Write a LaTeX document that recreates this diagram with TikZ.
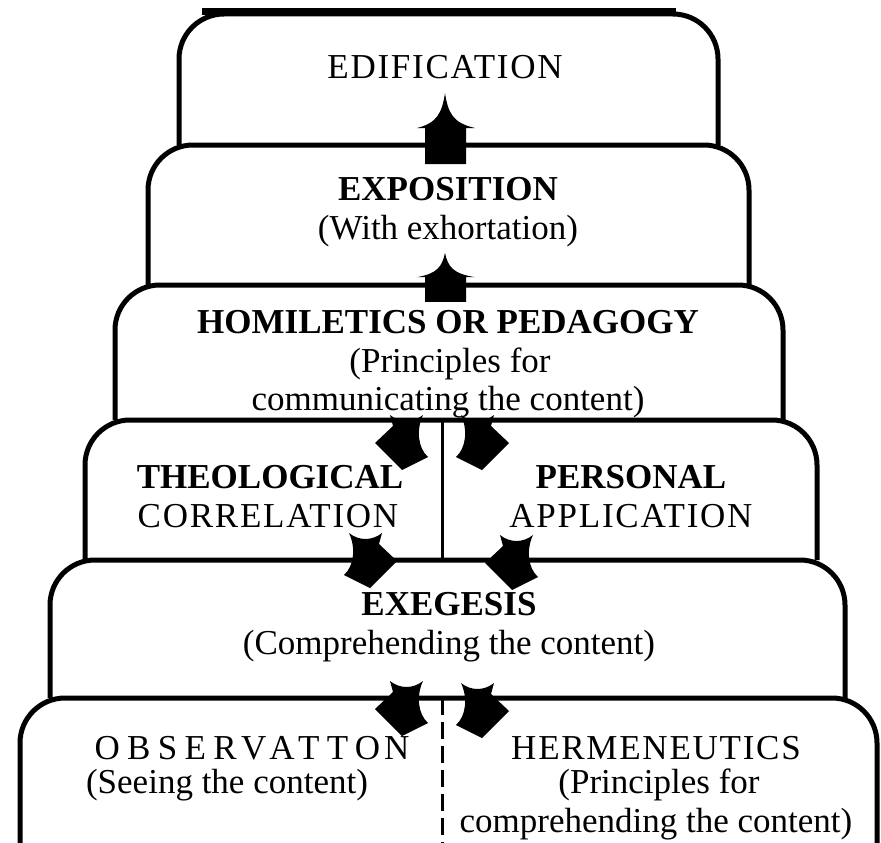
\documentclass[tikz,border=0pt]{standalone}
\usepackage{fontspec}
\setmainfont{Liberation Serif}
\newfontfamily\capsserif[LetterSpace=5]{Liberation Serif}
\newfontfamily\spacedserif[LetterSpace=21]{Liberation Serif}

\begin{document}
\begin{tikzpicture}[x=1pt,y=-1pt,
  box/.style={line width=5pt, rounded corners=45pt},
  divider/.style={line width=3pt},
  head/.style={anchor=base, inner sep=0pt, font=\fontsize{35}{40}\selectfont\bfseries},
  plain/.style={anchor=base, inner sep=0pt, font=\fontsize{35}{40}\selectfont},
  caps/.style={plain, font=\fontsize{35}{40}\capsserif},
  uparrow/.pic={\fill (0,0) .. controls (3,20) and (8,30) .. (30,35) -- (21,35)
      -- (21,71) -- (-20,71) -- (-20,35) -- (-28,35)
      .. controls (-8,30) and (-3,20) .. (0,0) -- cycle;},
  flow/.pic={\fill (-11,-28) .. controls (-1,-20) and (12,-20) .. (22,-28)
      .. controls (15,-13) and (17,5) .. (27,14) -- (1,27) -- (-26,0)
      -- (-8,-17) -- cycle;}]
  \useasboundingbox (0,0) rectangle (881,843);

  % the six steps, from the top down
  \draw[box] (179,145) -- (179,14) -- (718,14) -- (718,145);
  \draw[line width=7pt] (202,12) -- (676,12);
  \draw[box] (148,285) -- (148,145) -- (749,145) -- (749,285);
  \draw[box] (115,420) -- (115,285) -- (783,285) -- (783,420);
  \draw[box] (85,560) -- (85,420) -- (817,420) -- (817,560);
  \draw[box] (50,698) -- (50,560) -- (845,560) -- (845,698);
  \draw[box] (20,843) -- (20,698) -- (877,698) -- (877,843);
  \draw[divider] (442,420) -- (442,560);
  \draw[divider, dash pattern=on 17pt off 7pt] (442,698) -- (442,843);

  % labels
  \node[caps] (edif) at (445,78) {EDIFICATION};
  \node[head] (expo) at (448,200) {EXPOSITION};
  \node[plain] (expo2) at (448,239) {(With exhortation)};
  \node[head] (homi) at (448,333) {HOMILETICS OR PEDAGOGY};
  \node[plain] (homi2) at (450,372) {(Principles for};
  \node[plain] (homi3) at (448,410) {communicating the content)};
  \node[head] (theo) at (270,488) {THEOLOGICAL};
  \node[caps] (theo2) at (268,527) {CORRELATION};
  \node[head] (pers) at (631,488) {PERSONAL};
  \node[caps] (pers2) at (631,527) {APPLICATION};
  \node[head] (exeg) at (449,615) {EXEGESIS};
  \node[plain] (exeg2) at (449,654) {(Comprehending the content)};
  \node[plain, font=\fontsize{35}{40}\spacedserif] (obs) at (252,759) {OBSERVATTO\kern4pt N};
  \node[plain] (obs2) at (227,793) {(Seeing the content)};
  \node[caps] (herm) at (656,759) {HERMENEUTICS};
  \node[plain] (herm2) at (659,793) {(Principles for};
  \node[plain] (herm3) at (656,832) {comprehending the content)};

  % arrows between the steps
  \pic at (445,93) {uparrow};
  \pic[yscale=0.69] at (445,253) {uparrow};
  \pic at (401,443) {flow};
  \pic[xscale=-1] at (483,443) {flow};
  \pic[xscale=-1] at (371,561) {flow};
  \pic at (511,563) {flow};
  \pic at (401,709) {flow};
  \pic[xscale=-1] at (483,711) {flow};
\end{tikzpicture}
\end{document}
